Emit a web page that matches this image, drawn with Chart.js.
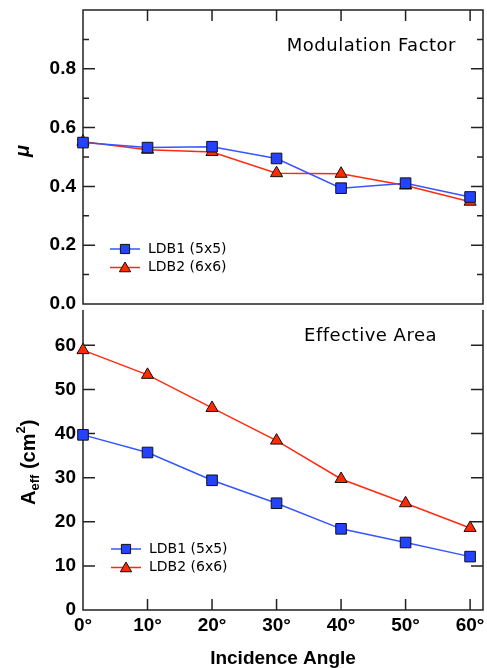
<!DOCTYPE html>
<html>
<head>
<meta charset="utf-8">
<script src="https://cdn.jsdelivr.net/npm/chart.js@4.4.1/dist/chart.umd.min.js"></script>
<style>
  body { margin: 0; background: #fff; }
  .panel { position: absolute; left: 0; }
</style>
</head>
<body>
<div class="panel" style="top:307px"><canvas id="areaChart" width="487" height="361"></canvas></div>
<div class="panel" style="top:0"><canvas id="muChart" width="487" height="322"></canvas></div>
<script>
// incidence angles (deg)
const angles = [0, 10, 20, 30, 40, 50, 60];
const seriesNames = ['LDB1 (5x5)', 'LDB2 (6x6)'];

// modulation factor
const muLDB1 = [0.549, 0.532, 0.535, 0.495, 0.394, 0.411, 0.364];
const muLDB2 = [0.552, 0.525, 0.517, 0.445, 0.443, 0.403, 0.348];

// effective area, cm^2
const areaLDB1 = [39.7, 35.7, 29.4, 24.2, 18.4, 15.3, 12.1];
const areaLDB2 = [58.9, 53.3, 45.8, 38.4, 29.7, 24.2, 18.6];

const muMajor = [0.2, 0.4, 0.6, 0.8];
const muMinor = [0.1, 0.3, 0.5, 0.7, 0.9];
const areaMajor = [10, 20, 30, 40, 50, 60];
const xTicks = [10, 20, 30, 40, 50, 60];

const blueLine = '#3556ff', blueFill = '#2443ff';
const redLine = '#ff2a10', redFill = '#ff2a00';

function toPoints(vals) {
    return angles.map((a, i) => ({x: a, y: vals[i]}));
}

function makeDatasets(a, b) {
    return [{
        label: seriesNames[0],
        data: toPoints(a),
        borderColor: blueLine,
        backgroundColor: blueFill,
        pointBorderColor: '#111',
        pointStyle: 'rect',
        pointRadius: 7.5,
        pointBorderWidth: 1,
        borderWidth: 1.5,
        clip: false
    }, {
        label: seriesNames[1],
        data: toPoints(b),
        borderColor: redLine,
        backgroundColor: redFill,
        pointBorderColor: '#111',
        pointStyle: 'triangle',
        pointRadius: 7,
        pointBorderWidth: 1,
        borderWidth: 1.5,
        clip: false
    }];
}

// keep the plot box where the layout padding puts it
function noPad(s) {
    s.paddingTop = 0; s.paddingBottom = 0;
    s.paddingLeft = 0; s.paddingRight = 0;
}

// frame, inward tick marks, legend, labels
const decor = {
    id: 'decor',
    beforeDatasetsDraw(chart, args, o) {
        const {ctx, chartArea: ca, scales: {x, y}} = chart;
        ctx.save();
        ctx.strokeStyle = '#222';
        ctx.lineWidth = 1.5;
        ctx.beginPath();
        if (o.box) {
            ctx.rect(ca.left, ca.top, ca.right - ca.left, ca.bottom - ca.top);
        } else {
            ctx.moveTo(ca.left, ca.top);
            ctx.lineTo(ca.left, ca.bottom);
            ctx.lineTo(ca.right, ca.bottom);
            ctx.lineTo(ca.right, ca.top);
        }
        (o.major || []).forEach(v => {
            const py = y.getPixelForValue(v);
            ctx.moveTo(ca.left, py); ctx.lineTo(ca.left + 12, py);
            ctx.moveTo(ca.right, py); ctx.lineTo(ca.right - 12, py);
        });
        (o.minor || []).forEach(v => {
            const py = y.getPixelForValue(v);
            ctx.moveTo(ca.left, py); ctx.lineTo(ca.left + 6, py);
            ctx.moveTo(ca.right, py); ctx.lineTo(ca.right - 6, py);
        });
        xTicks.forEach(v => {
            const px = x.getPixelForValue(v);
            if (o.xTop) { ctx.moveTo(px, ca.top); ctx.lineTo(px, ca.top + 11); }
            else { ctx.moveTo(px, ca.bottom); ctx.lineTo(px, ca.bottom - 11); }
        });
        ctx.stroke();
        ctx.restore();
    },
    afterDraw(chart, args, o) {
        const ctx = chart.ctx;
        ctx.save();
        // panel label
        ctx.fillStyle = '#000';
        ctx.font = '18px "DejaVu Sans"';
        ctx.letterSpacing = '0.5px';
        ctx.textAlign = 'right';
        ctx.textBaseline = 'middle';
        ctx.fillText(o.label, o.labelX, o.labelY);
        ctx.letterSpacing = '0px';
        // legend
        ctx.textAlign = 'left';
        ctx.font = '14px "DejaVu Sans"';
        chart.data.datasets.forEach((ds, i) => {
            const ly = o.legY + i * 18.5;
            ctx.strokeStyle = ds.borderColor;
            ctx.lineWidth = 1.5;
            ctx.beginPath();
            ctx.moveTo(o.legX, ly); ctx.lineTo(o.legX + 30, ly);
            ctx.stroke();
            ctx.fillStyle = ds.backgroundColor;
            ctx.strokeStyle = '#111';
            ctx.lineWidth = 1;
            Chart.helpers.drawPoint(ctx, {pointStyle: ds.pointStyle, radius: 6.5, borderWidth: 1}, o.legX + 15, ds.pointStyle === 'triangle' ? ly + 1 : ly);
            ctx.fillStyle = '#000';
            ctx.fillText(ds.label, o.legX + 38, ly);
        });
        // y axis title
        ctx.translate(o.titleX, o.titleY);
        ctx.rotate(-Math.PI / 2);
        ctx.fillStyle = '#000';
        ctx.textBaseline = 'alphabetic';
        ctx.textAlign = 'left';
        let cx = 0;
        o.title.forEach(p => {
            ctx.font = p.font;
            ctx.fillText(p.t, cx, p.dy || 0);
            cx += ctx.measureText(p.t).width;
        });
        ctx.restore();
    }
};

const tickFont = {family: '"Liberation Sans", Arial', size: 19, weight: 'bold'};

new Chart(document.getElementById('muChart'), {
    type: 'line',
    data: {datasets: makeDatasets(muLDB1, muLDB2)},
    plugins: [decor],
    options: {
        responsive: false,
        animation: false,
        devicePixelRatio: 1,
        layout: {padding: {left: 0, right: 4, top: 10, bottom: 18}, autoPadding: false},
        scales: {
            x: {type: 'linear', min: 0, max: 62, display: false},
            y: {
                min: 0, max: 1,
                afterFit: s => { s.width = 83; noPad(s); },
                grid: {display: false, drawTicks: false},
                border: {display: false},
                ticks: {
                    stepSize: 0.2, padding: 7, color: '#000', font: tickFont,
                    callback: v => v > 0.9 ? '' : v.toFixed(1)
                }
            }
        },
        plugins: {
            legend: {display: false},
            tooltip: {enabled: false},
            decor: {
                box: true, xTop: true, major: muMajor, minor: muMinor,
                label: 'Modulation Factor', labelX: 456, labelY: 46,
                legX: 110, legY: 249,
                titleX: 29, titleY: 157,
                title: [{t: 'μ', font: 'italic bold 20px "Liberation Sans"'}]
            }
        }
    }
});

new Chart(document.getElementById('areaChart'), {
    type: 'line',
    data: {datasets: makeDatasets(areaLDB1, areaLDB2)},
    plugins: [decor],
    options: {
        responsive: false,
        animation: false,
        devicePixelRatio: 1,
        layout: {padding: {left: 0, right: 4, top: 3, bottom: 0}, autoPadding: false},
        scales: {
            x: {
                type: 'linear', min: 0, max: 62,
                afterFit: s => { s.height = 58; noPad(s); },
                grid: {display: false, drawTicks: false},
                border: {display: false},
                ticks: {
                    stepSize: 10, includeBounds: false, padding: 4, color: '#000',
                    maxRotation: 0, font: tickFont,
                    callback: v => v + '°'
                },
                title: {
                    display: true, text: 'Incidence Angle', color: '#000',
                    font: {family: '"Liberation Sans", Arial', size: 19, weight: 'bold'},
                    padding: {top: 0, bottom: -2}
                }
            },
            y: {
                min: 0, max: 68,
                afterFit: s => { s.width = 83; noPad(s); },
                grid: {display: false, drawTicks: false},
                border: {display: false},
                ticks: {stepSize: 10, includeBounds: false, padding: 7, color: '#000', font: tickFont}
            }
        },
        plugins: {
            legend: {display: false},
            tooltip: {enabled: false},
            decor: {
                box: false, xTop: false, major: areaMajor,
                label: 'Effective Area', labelX: 437, labelY: 29,
                legX: 111, legY: 242,
                titleX: 35, titleY: 198,
                title: [
                    {t: 'A', font: 'bold 20px "Liberation Sans"'},
                    {t: 'eff', font: 'bold 13px "Liberation Sans"', dy: 4},
                    {t: ' (cm', font: 'bold 20px "Liberation Sans"'},
                    {t: '2', font: 'bold 13px "Liberation Sans"', dy: -10},
                    {t: ')', font: 'bold 20px "Liberation Sans"'}
                ]
            }
        }
    }
});
</script>
</body>
</html>
